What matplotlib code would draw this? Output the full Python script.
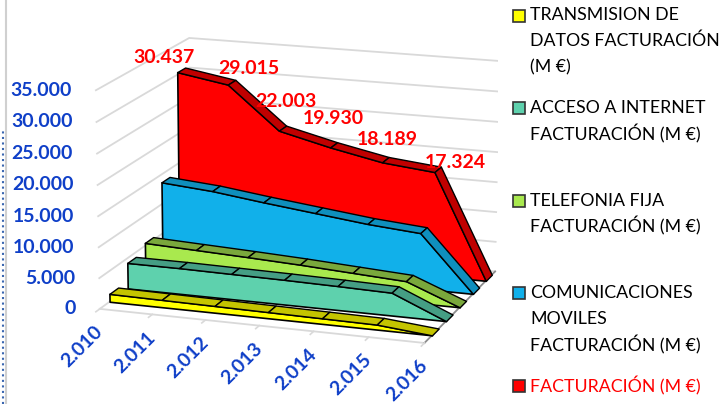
import matplotlib
matplotlib.use('Agg')
import matplotlib.pyplot as plt
from matplotlib.lines import Line2D
from matplotlib.patches import Rectangle
from mpl_toolkits.mplot3d import proj3d
from mpl_toolkits.mplot3d.art3d import Poly3DCollection

plt.rcParams['font.family'] = ['Lato', 'DejaVu Sans']

years = ['2.010', '2.011', '2.012', '2.013', '2.014', '2.015', '2.016']
z_ticks = [0, 5000, 10000, 15000, 20000, 25000, 30000, 35000]
z_labels = ['0', '5.000', '10.000', '15.000', '20.000', '25.000', '30.000', '35.000']

# de delante hacia atras
datos = [1300, 1200, 1100, 1000, 900, 800, 0]
internet = [4250, 4250, 4150, 4050, 3900, 3700, 0]
fija = [5500, 5150, 4800, 4400, 3900, 3400, 0]
moviles = [13700, 13000, 11900, 10900, 9900, 9200, 0]
total = [30437, 29015, 22003, 19930, 18189, 17324, 0]

series = [datos, internet, fija, moviles, total]
face_colors = ['#ffff00', '#5ed1ad', '#a9e94e', '#11b0ea', '#ff0000']
top_colors = ['#c4c400', '#459e84', '#7aa83c', '#0f8fbd', '#c00000']

total_labels = ['30.437', '29.015', '22.003', '19.930', '18.189', '17.324']

legend_lines = [
    (15, 'TRANSMISION DE', 'black'), (41, 'DATOS FACTURACIÓN', 'black'), (67, '(M €)', 'black'),
    (108, 'ACCESO A INTERNET', 'black'), (134, 'FACTURACIÓN (M €)', 'black'),
    (201, 'TELEFONIA FIJA', 'black'), (226, 'FACTURACIÓN (M €)', 'black'),
    (293, 'COMUNICACIONES', 'black'), (319, 'MOVILES', 'black'), (345, 'FACTURACIÓN (M €)', 'black'),
    (386, 'FACTURACIÓN (M €)', '#ff0000'),
]
legend_swatches = [(16, 0), (108, 1), (201, 2), (293, 3), (386, 4)]

W, H = 722, 404
PX = 72 / 100  # puntos por pixel
fig = plt.figure(figsize=(W / 100, H / 100), dpi=100)
ax = fig.add_axes([94 / W, 13 / H, 404 / W, 1.0], projection='3d', computed_zorder=False)
ax.view_init(elev=15, azim=-71)
ax.set_proj_type('persp', focal_length=1.4)
ax.set_box_aspect((335, 252, 222), zoom=1.14)
ax.set_xlim(0, 6)
ax.set_ylim(0, 1)
ax.set_zlim(0, 35000)
ax.set_axis_off()


def label(x, y, z, text, dx, dy, **kw):
    # texto 2D en el punto proyectado, con desplazamiento en pixeles
    x2, y2, _ = proj3d.proj_transform(x, y, z, ax.get_proj())
    ax.annotate(text, (x2, y2), xycoords='data', xytext=(dx * PX, dy * PX), textcoords='offset points',
                annotation_clip=False, zorder=40, **kw)


grid = '#d9d9d9'
# paredes y suelo
for z in z_ticks:
    ax.plot([0, 0, 6], [0, 1, 1], [z, z, z], color=grid, lw=1.3, zorder=1)
ax.plot([0, 6], [0, 0], [0, 0], color=grid, lw=1.3, zorder=1)
ax.plot([6, 6], [0, 1], [0, 0], color='#8c8c8c', lw=1.3, zorder=1)
for i in range(7):
    ax.plot([i, i], [0, -0.04], [0, 0], color=grid, lw=1.2, zorder=1)

# areas, de atras hacia delante
for k in range(4, -1, -1):
    vals = series[k]
    d0 = 0.19 * k + 0.1
    d1 = d0 + 0.09
    z0 = 10 + (4 - k) * 3
    front = [(i, d0, v) for i, v in enumerate(vals)] + [(6, d0, 0), (0, d0, 0)]
    ax.add_collection3d(Poly3DCollection([front], facecolor=face_colors[k], edgecolor='black',
                                         linewidth=1.2, zorder=z0))
    for i in range(6):
        quad = [(i, d0, vals[i]), (i + 1, d0, vals[i + 1]), (i + 1, d1, vals[i + 1]), (i, d1, vals[i])]
        ax.add_collection3d(Poly3DCollection([quad], facecolor=top_colors[k], edgecolor='black',
                                             linewidth=1.0, zorder=z0 + 1))

blue = '#0f3fc8'
for z, t in zip(z_ticks, z_labels):
    label(0, 0, z, t, -24, 0, color=blue, fontsize=14, fontweight='bold', ha='right', va='center')
for i, t in enumerate(years):
    label(i, 0, 0, t, 0, -20, color=blue, fontsize=14, fontweight='bold', rotation=45,
          rotation_mode='anchor', ha='right', va='center')
label_dx = [-13, 21, 7, 3, 5, 21]
label_dy = [15, 16, 29, 29, 23, 10]
for i, t in enumerate(total_labels):
    label(i, 0.19 * 4 + 0.1, total[i], t, label_dx[i], label_dy[i], color='#ff0000', fontsize=14,
          fontweight='bold', ha='center', va='center')

# leyenda
for y, k in legend_swatches:
    fig.add_artist(Rectangle((513 / W, 1 - (y + 6) / H), 12 / W, 12 / H, transform=fig.transFigure,
                             facecolor=face_colors[k], edgecolor='#333333', linewidth=1.2))
for y, t, c in legend_lines:
    fig.text(530 / W, 1 - y / H, t, color=c, fontsize=12.8, ha='left', va='center')

# marco de la izquierda
fig.add_artist(Line2D([6 / W, 6 / W], [0, 1], color='#d0d0d0', lw=1.5))
fig.add_artist(Line2D([2.5 / W, 2.5 / W], [0, 1 - 130 / H], color='#3a66b0', lw=1.5, ls=':'))

fig.savefig('out.png', dpi=100)
